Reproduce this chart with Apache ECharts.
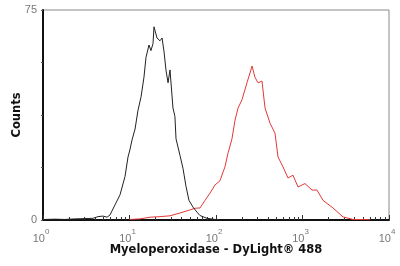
<!DOCTYPE html>
<html>
<head>
<meta charset="utf-8">
<script src="https://cdn.jsdelivr.net/npm/echarts@6/dist/echarts.min.js"></script>
<style>html,body{margin:0;padding:0;background:#fff}#c{width:400px;height:266px}</style>
</head>
<body>
<div id="c"></div>
<script>
// Black histogram (control)
var blackX = [1.05,1.38,1.8,2.34,3.06,3.78,4.32,4.94,5.5,5.95,6.8,7.77,8.87,9.61,10.1,10.7,11.6,12.5,13.6,14.7,15.5,16.8,17.7,18.7,19.2,20.8,22.5,23.8,25.1,26.4,27.9,29.4,31.8,33.5,34.5,38.4,41.5,45.0,48.7,54.2,60.3,65.3,78.7,97.3,110];
var blackY = [0.2,0.3,0.2,0.4,0.5,0.6,1.2,1.4,1.0,1.8,5.4,9,15.5,22.5,25,28.6,32.5,39,44,51,58,62.5,60.5,63,69,65,64,65,60,53.6,49,53.6,40,37,29,23,18.5,12,7,4.6,2.8,1.6,0.6,0.2,0.1];
// Red histogram (Myeloperoxidase - DyLight 488)
var redX = [10.1,13.2,17.3,22.5,29.4,38.4,50,57.2,65.3,74.6,85.3,97.3,111,127,138,153,166,180,200,228,247,261,282,306,340,369,421,481,521,595,680,776,887,1069,1288,1472,1727,2254,2937,3837,6030];
var redY = [0.2,0.4,1.0,1.2,1.5,2.5,3.6,4.2,4.3,7,9.6,12.5,14,19,24,29,35.7,40,43,49,52.5,55,51,49,49.6,40,34.6,31,22.5,19,15,16,11.8,13,10.7,10.7,7,4.3,1.1,0.2,0.1];
// Axis ticks
var xDecades = [1,10,100,1000,10000];
var xMinor = [2,3,4,5,6,7,8,9,20,30,40,50,60,70,80,90,200,300,400,500,600,700,800,900,2000,3000,4000,5000,6000,7000,8000,9000];
var yTicks = [0,18.75,37.5,56.25,75];
var yLabels = [0,75];

function zip(a,b){return a.map(function(v,i){return [v,b[i]];});}

var chart = echarts.init(document.getElementById('c'), null, {renderer:'canvas'});
var F = 'Liberation Sans, Arial, sans-serif';
var FB = 'DejaVu Sans, Verdana, sans-serif';
chart.setOption({
  animation:false,
  grid:{left:43,right:11,top:10,bottom:46,show:true,borderColor:'#888',borderWidth:1,containLabel:false,outerBoundsMode:'none'},
  xAxis:[{
    type:'log',logBase:10,min:1,max:10000,
    axisLine:{lineStyle:{color:'#111',width:2}},
    axisTick:{show:true,inside:true,length:3,lineStyle:{color:'#333'},customValues:xMinor},
    minorTick:{show:false},
    splitLine:{show:false},
    axisLabel:{
      customValues:xDecades,margin:8,
      formatter:function(v){var e=Math.round(Math.log10(v));return '{b|10}{s|'+e+'}';},
      rich:{b:{fontSize:11,color:'#777',fontFamily:F,verticalAlign:'bottom'},s:{fontSize:8,color:'#777',fontFamily:F,verticalAlign:'top',padding:[0,4,8,0]}}
    },
    name:'Myeloperoxidase - DyLight\u00ae 488',nameLocation:'middle',nameGap:24,nameMoveOverlap:false,
    nameTextStyle:{fontSize:11.5,fontWeight:'bold',color:'#111',fontFamily:FB}
  },{
    type:'log',logBase:10,min:1,max:10000,position:'bottom',
    axisLine:{show:false},
    axisTick:{show:true,inside:true,length:5,lineStyle:{color:'#333'},customValues:xDecades},
    axisLabel:{show:false},splitLine:{show:false}
  }],
  yAxis:{
    type:'value',min:0,max:75,interval:18.75,
    axisLine:{show:true,lineStyle:{color:'#111',width:2}},
    axisTick:{show:true,length:2,lineStyle:{color:'#555'},customValues:yTicks},
    splitLine:{show:false},
    axisLabel:{customValues:yLabels,margin:6,fontSize:11,color:'#777',fontFamily:F},
    name:'Counts',nameLocation:'middle',nameGap:20,nameRotate:90,nameMoveOverlap:false,
    nameTextStyle:{fontSize:11.5,fontWeight:'bold',color:'#111',fontFamily:FB}
  },
  series:[
    {type:'line',data:zip(blackX,blackY),showSymbol:false,symbol:'none',lineStyle:{color:'#222',width:1},z:3},
    {type:'line',data:zip(redX,redY),showSymbol:false,symbol:'none',lineStyle:{color:'#e23838',width:1},z:2}
  ]
});
</script>
</body>
</html>
